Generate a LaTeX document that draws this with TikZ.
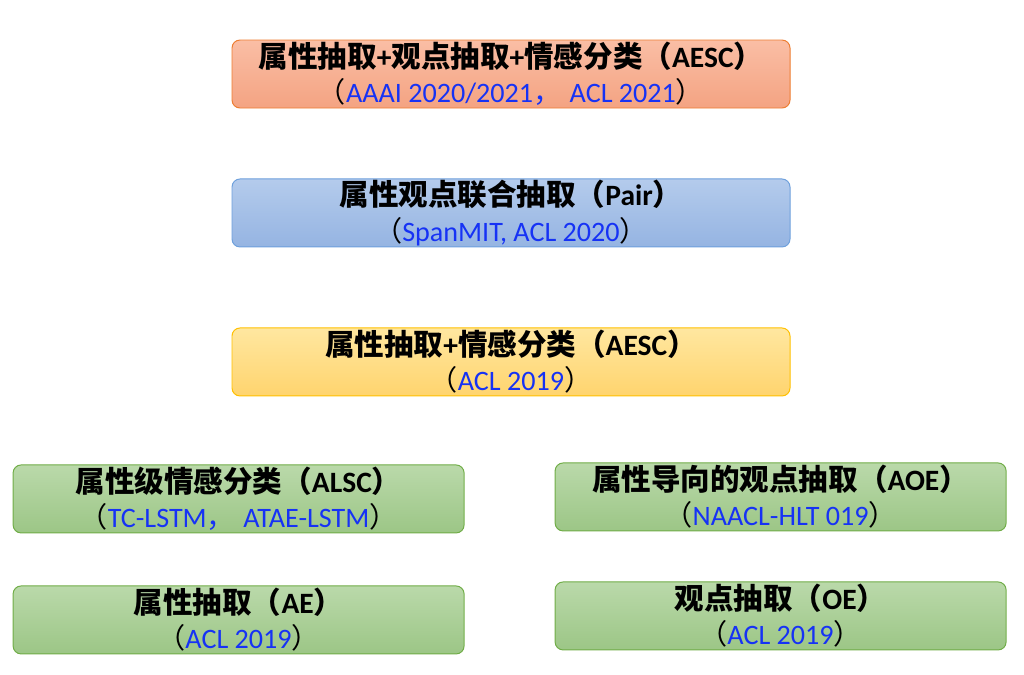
\documentclass[tikz,border=0pt]{standalone}
\usepackage{xcolor}
\usepackage{fontspec}
\setmainfont{Carlito}
\newfontfamily\cjk{Noto Sans CJK SC}
\newcommand{\zh}[1]{{\cjk #1}}
\usepackage{tikz}
\usetikzlibrary{positioning}

\definecolor{refblue}{RGB}{22,50,245}
\definecolor{orangetop}{RGB}{250,190,165}
\definecolor{orangebot}{RGB}{244,163,130}
\definecolor{orangeline}{RGB}{237,125,49}
\definecolor{bluetop}{RGB}{180,203,236}
\definecolor{bluebot}{RGB}{149,180,226}
\definecolor{blueline}{RGB}{110,160,220}
\definecolor{yellowtop}{RGB}{255,231,160}
\definecolor{yellowbot}{RGB}{255,212,110}
\definecolor{yellowline}{RGB}{255,192,0}
\definecolor{greentop}{RGB}{186,217,170}
\definecolor{greenbot}{RGB}{156,198,134}
\definecolor{greenline}{RGB}{112,173,71}

\newcommand{\refline}[1]{{\fontsize{20}{25}\selectfont\zh{（}{\color{refblue}#1}\zh{）}}}

\begin{document}
\begin{tikzpicture}[
  node distance=1.75cm,
  task/.style={draw, rounded corners=0.2cm, line width=0.7pt, minimum height=1.7cm,
    inner sep=0pt, align=center, font=\fontsize{21}{25}\selectfont},
  wide/.style={task, minimum width=13.95cm},
  half/.style={task, minimum width=11.275cm},
  grad/.style={top color=#1top, bottom color=#1bot, draw=#1line},
]
\useasboundingbox (0,0) rectangle (25.6,-16.85);

% Joint tasks
\node[wide, grad=orange] (aesc) at (12.775,-1.85)
  {\textbf{\zh{属性抽取}+\zh{观点抽取}+\zh{情感分类（}AESC\zh{）}}\\
   \refline{AAAI 2020/2021\zh{，}\hspace{0.3em}ACL 2021}};
\node[wide, grad=blue, below=1.75cm of aesc] (pair)
  {\textbf{\zh{属性观点联合抽取（}Pair\zh{）}}\\
   \refline{SpanMIT, ACL 2020}};
\node[wide, grad=yellow, below=2cm of pair] (aespair)
  {\textbf{\zh{属性抽取}+\zh{情感分类（}AESC\zh{）}}\\
   \refline{ACL 2019}};

% Single tasks
\node[half, grad=green, below=1.7cm of aespair, xshift=-6.81cm] (alsc)
  {\textbf{\zh{属性级情感分类（}ALSC\zh{）}}\\
   \refline{TC-LSTM\zh{，}\hspace{0.3em}ATAE-LSTM}};
\node[half, grad=green, below=1.65cm of aespair, xshift=6.74cm] (aoe)
  {\textbf{\zh{属性导向的观点抽取（}AOE\zh{）}}\\
   \refline{NAACL-HLT 019}};
\node[half, grad=green, below=1.3cm of alsc] (ae)
  {\textbf{\zh{属性抽取（}AE\zh{）}}\\
   \refline{ACL 2019}};
\node[half, grad=green, below=1.25cm of aoe] (oe)
  {\textbf{\zh{观点抽取（}OE\zh{）}}\\
   \refline{ACL 2019}};

\end{tikzpicture}
\end{document}
